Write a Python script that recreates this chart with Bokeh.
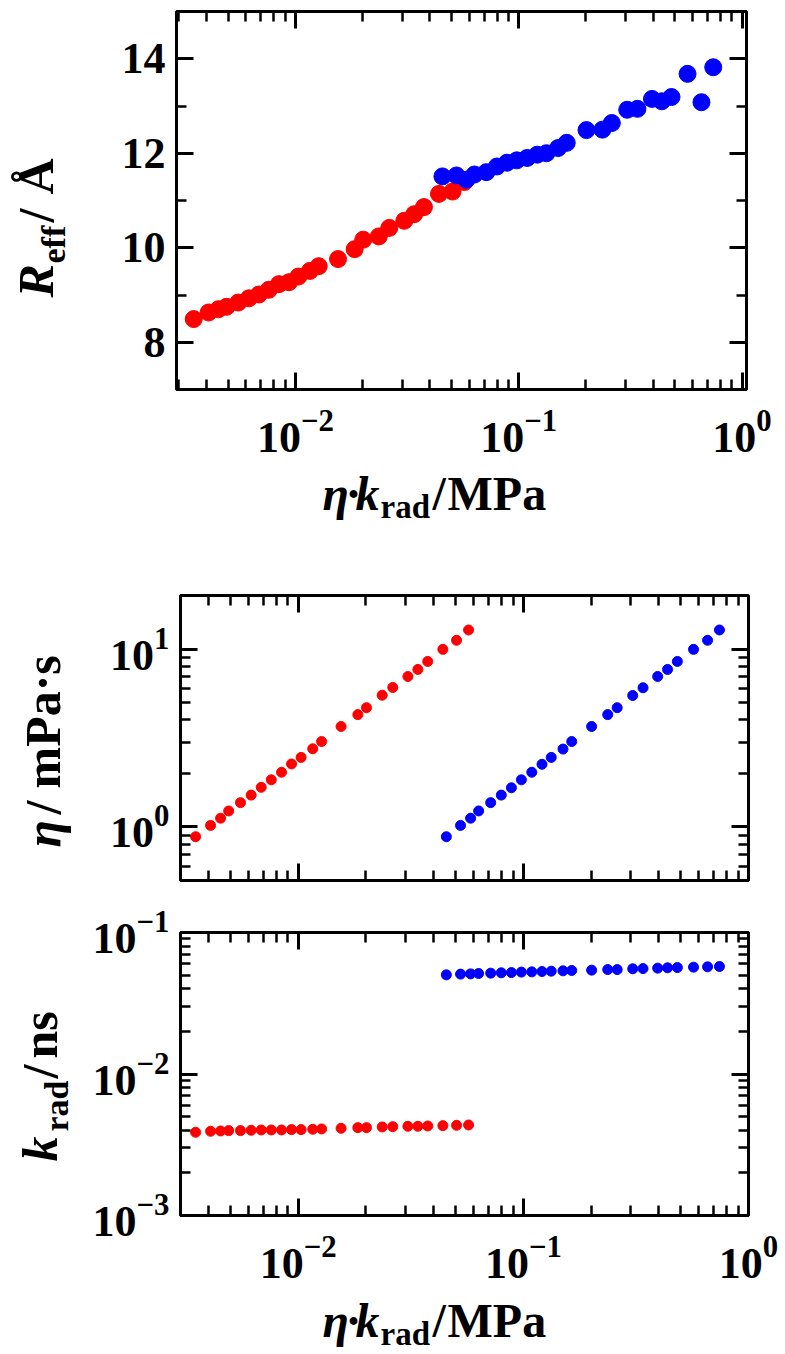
import math
from bokeh.plotting import figure
from bokeh.layouts import column, row
from bokeh.models import (Range1d, FixedTicker, LogAxis, LinearAxis,
                          CustomJSTickFormatter)
from bokeh.core.properties import value
from bokeh.embed import file_html
from bokeh.resources import INLINE

FONT = "Liberation Serif"

# ---------------- data ----------------
x_red = [0.00350, 0.00408, 0.00452, 0.00491, 0.00554, 0.00618, 0.00685, 0.00759,
         0.00843, 0.00934, 0.0103, 0.0116, 0.0127, 0.0155, 0.0184, 0.0201,
         0.0236, 0.0263, 0.0307, 0.0340, 0.0376, 0.0439, 0.0505, 0.0571]
x_blue = [0.0455, 0.0526, 0.0583, 0.0633, 0.0716, 0.0798, 0.0885, 0.0980,
          0.109, 0.121, 0.133, 0.150, 0.164, 0.201, 0.237, 0.261,
          0.306, 0.340, 0.395, 0.437, 0.483, 0.570, 0.658, 0.743]

R_red = [8.49, 8.63, 8.70, 8.75, 8.84, 8.93, 9.01, 9.11, 9.23, 9.27, 9.39, 9.51,
         9.61, 9.76, 9.97, 10.17, 10.24, 10.42, 10.57, 10.71, 10.86, 11.14, 11.19, 11.39]
R_blue = [11.51, 11.53, 11.44, 11.55, 11.60, 11.72, 11.80, 11.85, 11.90, 11.97, 12.00, 12.11,
          12.22, 12.49, 12.50, 12.64, 12.92, 12.94, 13.15, 13.10, 13.19, 13.68, 13.08, 13.82]

eta_red = [0.881, 1.02, 1.12, 1.23, 1.37, 1.51, 1.67, 1.84, 2.03, 2.26, 2.46, 2.75,
           3.02, 3.67, 4.28, 4.68, 5.50, 6.08, 7.01, 7.68, 8.52, 9.96, 11.2, 12.8]
eta_blue = [0.881, 1.02, 1.12, 1.23, 1.37, 1.51, 1.66, 1.84, 2.03, 2.25, 2.46, 2.74,
            3.02, 3.67, 4.28, 4.68, 5.48, 6.06, 7.01, 7.68, 8.52, 9.96, 11.2, 12.8]

k_red = [0.003873, 0.003936, 0.003958, 0.003980, 0.003980, 0.004001, 0.004023, 0.004023,
         0.004023, 0.004045, 0.004045, 0.004067, 0.004089, 0.004133, 0.004178, 0.004178,
         0.004224, 0.004246, 0.004269, 0.004269, 0.004292, 0.004316, 0.004339, 0.004362]
k_blue = [0.0502, 0.0508, 0.0510, 0.0513, 0.0516, 0.0519, 0.0521, 0.0525,
          0.0527, 0.0530, 0.0533, 0.0536, 0.0539, 0.0542, 0.0547, 0.0547,
          0.0554, 0.0556, 0.0560, 0.0563, 0.0565, 0.0569, 0.0572, 0.0575]

RED = "#ff0000"
BLUE = "#0000ff"

LOG_MINOR = [m * 10.0 ** e for e in (-4, -3, -2, -1, 0, 1) for m in range(2, 10)]

TOTAL_W = 785
YLAB_W = 80
MAIN_W = TOTAL_W - YLAB_W
MID = 0.35   # text anchor ("middle") sits this many em above the baseline


def style_axis(ax, ticks, minor, show_labels, standoff=0, size="44px"):
    ax.ticker = FixedTicker(ticks=ticks, minor_ticks=minor)
    ax.axis_line_color = None
    ax.major_tick_in = 17
    ax.major_tick_out = 0
    ax.minor_tick_in = 10
    ax.minor_tick_out = 0
    ax.major_tick_line_width = 3
    ax.minor_tick_line_width = 2.5
    ax.major_tick_line_color = "black"
    ax.minor_tick_line_color = "black"
    ax.major_label_text_font = FONT
    ax.major_label_text_font_style = "bold"
    ax.major_label_text_font_size = size
    ax.major_label_text_color = "black"
    ax.axis_label = None
    if show_labels:
        ax.major_label_standoff = standoff
    else:
        ax.formatter = CustomJSTickFormatter(code="return ''")
        ax.major_label_standoff = 0


def make_fig(height, borders, xr, yr, ylog, xticks, yticks, yminor, xlabels):
    left, right, top, bottom = borders
    p = figure(width=MAIN_W, height=height,
               x_axis_type="log", y_axis_type="log" if ylog else "linear",
               x_range=Range1d(*xr), y_range=Range1d(*yr),
               output_backend="svg", toolbar_location=None, tools="",
               min_border_left=left, min_border_right=right,
               min_border_top=top, min_border_bottom=bottom)
    p.xgrid.visible = False
    p.ygrid.visible = False
    p.outline_line_color = "black"
    p.outline_line_width = 3
    p.background_fill_color = "white"
    p.border_fill_color = "white"

    style_axis(p.xaxis[0], xticks, LOG_MINOR, xlabels, 21)
    style_axis(p.yaxis[0], yticks, yminor, True, 11)

    top_ax = LogAxis()
    style_axis(top_ax, xticks, LOG_MINOR, False)
    p.add_layout(top_ax, "above")
    right_ax = LogAxis() if ylog else LinearAxis()
    style_axis(right_ax, yticks, yminor, False)
    p.add_layout(right_ax, "right")
    return p


def label_fig(w, h, yspan):
    f = figure(width=w, height=h, x_range=Range1d(0, w), y_range=Range1d(0, yspan),
               output_backend="svg", toolbar_location=None, tools="",
               x_axis_location=None, y_axis_location=None,
               min_border_left=0, min_border_right=0,
               min_border_top=0, min_border_bottom=0)
    f.xgrid.visible = False
    f.ygrid.visible = False
    f.outline_line_color = None
    f.background_fill_color = "white"
    f.border_fill_color = "white"
    return f


def txt(f, fl, fb, px, py, text, size, style, vertical=False):
    # (px, py): page position of the left end of the text baseline
    if vertical:
        ax_, ay_ = px - MID * size, py
        ang = math.pi / 2
    else:
        ax_, ay_ = px, py - MID * size
        ang = 0.0
    f.text(x=[ax_ - fl], y=[fb - ay_], text=[text], angle=ang,
           text_font=value(FONT), text_font_size=value(f"{size}px"),
           text_font_style=value(style), text_align=value("left"),
           text_baseline=value("middle"), text_color="black")


def x_title(f, fl, fb, base):
    txt(f, fl, fb, 322, base, "η", 48, "bold italic")
    txt(f, fl, fb, 345, base, "·", 48, "bold")
    txt(f, fl, fb, 355, base, "k", 48, "bold italic")
    txt(f, fl, fb, 380, base + 8, "rad", 33, "bold")
    txt(f, fl, fb, 432, base, "/", 48, "bold")
    txt(f, fl, fb, 447, base, "MPa", 48, "bold")


# ---------------- top panel (page y 0-467, frame 11-389) ----------------
p1 = make_fig(467, (96, 39, 11, 78), (0.00293, 1.047), (7, 15), False,
              [0.01, 0.1, 1.0], [8, 10, 12, 14], [9, 11, 13], True)
p1.scatter(x_red, R_red, size=17, fill_color=RED, line_color=RED)
p1.scatter(x_blue, R_blue, size=17, fill_color=BLUE, line_color=BLUE)

FB1 = 389
yl1 = label_fig(YLAB_W, 467, 389 - 11)
txt(yl1, 0, FB1, 53, 297, "R", 50, "bold italic", True)
txt(yl1, 0, FB1, 65, 263, "eff", 34, "bold", True)
txt(yl1, 0, FB1, 53, 222, "/", 50, "bold", True)
txt(yl1, 0, FB1, 53, 194, "Å", 50, "bold", True)

xl1 = label_fig(TOTAL_W, 93, 93)      # page y 467-560
x_title(xl1, 0, 560, 510)

# ---------------- middle panel (page y 560-900, frame 595-880) ----------------
p2 = make_fig(340, (100, 37, 35, 20), (0.003, 1.0), (0.5, 20), True,
              [0.01, 0.1, 1.0], [1.0, 10.0], LOG_MINOR, False)
p2.scatter(x_red, eta_red, size=10, fill_color=RED, line_color=RED)
p2.scatter(x_blue, eta_blue, size=10, fill_color=BLUE, line_color=BLUE)

FB2 = 880
yl2 = label_fig(YLAB_W, 340, 880 - 595)
txt(yl2, 0, FB2, 60, 847, "η", 50, "bold italic", True)
txt(yl2, 0, FB2, 60, 814, "/", 50, "bold", True)
txt(yl2, 0, FB2, 60, 788, "mPa·s", 50, "bold", True)

# ---------------- bottom panel (page y 900-1293, frame 932-1215) ----------------
p3 = make_fig(393, (100, 37, 32, 78), (0.003, 1.0), (0.001, 0.1), True,
              [0.01, 0.1, 1.0], [0.001, 0.01, 0.1], LOG_MINOR, True)
p3.scatter(x_red, k_red, size=10, fill_color=RED, line_color=RED)
p3.scatter(x_blue, k_blue, size=10, fill_color=BLUE, line_color=BLUE)

FB3 = 1215
yl3 = label_fig(YLAB_W, 393, 1215 - 932)
txt(yl3, 0, FB3, 57, 1161, "k", 50, "bold italic", True)
txt(yl3, 0, FB3, 68, 1131, "rad", 34, "bold", True)
txt(yl3, 0, FB3, 57, 1078, "/", 50, "bold", True)
txt(yl3, 0, FB3, 57, 1058, "ns", 50, "bold", True)

xl3 = label_fig(TOTAL_W, 60, 60)      # page y 1293-1353
x_title(xl3, 0, 1353, 1337)

layout = column(
    row(yl1, p1, spacing=0),
    xl1,
    row(yl2, p2, spacing=0),
    row(yl3, p3, spacing=0),
    xl3,
    spacing=0,
)
open("out.html", "w").write(file_html(layout, INLINE))
